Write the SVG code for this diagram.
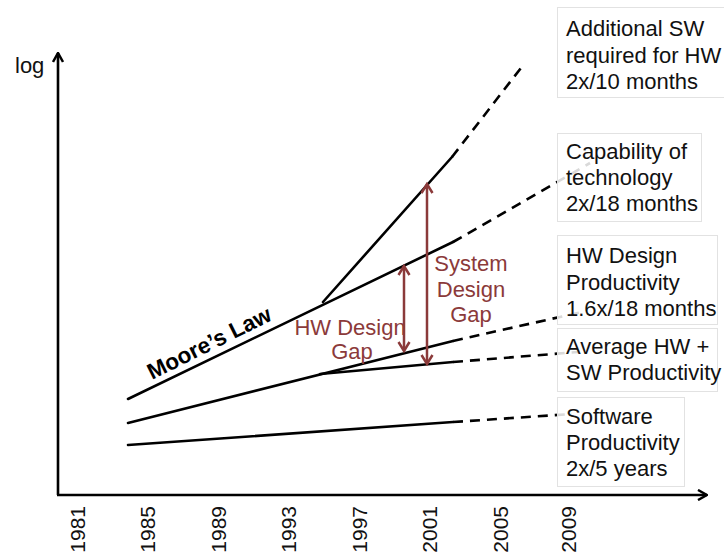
<svg xmlns="http://www.w3.org/2000/svg" width="724" height="554" viewBox="0 0 724 554">
  <style>
    text { font-family: "Liberation Sans", Arial, sans-serif; }
    .lbl { font-size: 22px; fill: #111; }
    .year { font-size: 21px; fill: #111; text-anchor: end; }
    .gap { font-size: 22px; fill: #8b3a3a; text-anchor: middle; }
    .solid { stroke: #000; stroke-width: 2.6; fill: none; stroke-linecap: round; }
    .dash { stroke: #000; stroke-width: 2.6; fill: none; stroke-dasharray: 10 7; }
    .axis { stroke: #000; stroke-width: 2.6; fill: none; }
    .gaparrow { stroke: #8b3a3a; stroke-width: 2.5; fill: none; marker-start: url(#redhead); marker-end: url(#redhead); }
    .box { fill: #fff; fill-opacity: 0.85; stroke: #e2e2e2; stroke-width: 1; }
  </style>
  <defs>
    <marker id="axhead" viewBox="0 0 12 12" refX="11" refY="6" markerWidth="12" markerHeight="12" markerUnits="userSpaceOnUse" orient="auto">
      <path d="M2,1 L11,6 L2,11" fill="none" stroke="#000" stroke-width="2.5"/>
    </marker>
    <marker id="redhead" viewBox="0 0 14 14" refX="12" refY="7" markerWidth="14" markerHeight="14" markerUnits="userSpaceOnUse" orient="auto-start-reverse">
      <path d="M3,1.5 L12,7 L3,12.5" fill="none" stroke="#8b3a3a" stroke-width="2.5"/>
    </marker>
  </defs>

  <!-- axes -->
  <g id="axes">
    <line class="axis" x1="58" y1="495" x2="58" y2="53" marker-end="url(#axhead)"/>
    <line class="axis" x1="57" y1="495" x2="707" y2="495" marker-end="url(#axhead)"/>
    <text class="lbl" x="15" y="73">log</text>
  </g>

  <!-- year ticks along the time axis -->
  <g id="years">
    <text class="year" transform="translate(85,506) rotate(-90)">1981</text>
    <text class="year" transform="translate(155,506) rotate(-90)">1985</text>
    <text class="year" transform="translate(226,506) rotate(-90)">1989</text>
    <text class="year" transform="translate(296,506) rotate(-90)">1993</text>
    <text class="year" transform="translate(367,506) rotate(-90)">1997</text>
    <text class="year" transform="translate(437,506) rotate(-90)">2001</text>
    <text class="year" transform="translate(508,506) rotate(-90)">2005</text>
    <text class="year" transform="translate(576,506) rotate(-90)">2009</text>
  </g>

  <!-- trend lines -->
  <g id="connectors">
    <!-- additional SW required for HW -->
    <line class="solid" x1="323" y1="302" x2="452" y2="157"/>
    <line class="dash" x1="452" y1="157" x2="524" y2="64"/>
    <!-- capability of technology (Moore's law) -->
    <line class="solid" x1="128" y1="399" x2="453" y2="242"/>
    <line class="dash" x1="453" y1="242" x2="590" y2="163"/>
    <!-- HW design productivity -->
    <line class="solid" x1="128" y1="423" x2="453" y2="341"/>
    <line class="dash" x1="453" y1="341" x2="582" y2="312"/>
    <!-- average HW + SW productivity -->
    <line class="solid" x1="320" y1="374" x2="453" y2="362"/>
    <line class="dash" x1="453" y1="362" x2="578" y2="352"/>
    <!-- software productivity -->
    <line class="solid" x1="128" y1="445" x2="453" y2="422"/>
    <line class="dash" x1="453" y1="422" x2="572" y2="414"/>
    <!-- design gaps -->
    <line class="gaparrow" x1="404" y1="266" x2="404" y2="351"/>
    <line class="gaparrow" x1="427" y1="184" x2="427" y2="364"/>
  </g>

  <g id="moores-law">
    <text transform="translate(152,380) rotate(-26.5)" style="font-size:22.5px;font-weight:bold;fill:#000">Moore’s Law</text>
  </g>

  <g id="hw-gap">
    <text class="gap" x="350" y="335">HW Design</text>
    <text class="gap" x="352" y="359">Gap</text>
  </g>

  <g id="system-gap">
    <text class="gap" x="471" y="271">System</text>
    <text class="gap" x="471" y="297">Design</text>
    <text class="gap" x="471" y="322">Gap</text>
  </g>

  <!-- legend boxes -->
  <g id="additional-sw">
    <rect class="box" x="557.5" y="7.5" width="170" height="90"/>
    <text class="lbl" x="566" y="36">Additional SW</text>
    <text class="lbl" x="566" y="63">required for HW</text>
    <text class="lbl" x="566" y="89">2x/10 months</text>
  </g>

  <g id="capability">
    <rect class="box" x="557.5" y="133.5" width="144" height="88"/>
    <text class="lbl" x="566" y="159">Capability of</text>
    <text class="lbl" x="566" y="185">technology</text>
    <text class="lbl" x="566" y="211">2x/18 months</text>
  </g>

  <g id="hw-productivity">
    <rect class="box" x="557.5" y="235.5" width="160" height="89"/>
    <text class="lbl" x="566" y="263">HW Design</text>
    <text class="lbl" x="566" y="290">Productivity</text>
    <text class="lbl" x="566" y="316">1.6x/18 months</text>
  </g>

  <g id="average-productivity">
    <rect class="box" x="557.5" y="328.5" width="160" height="63"/>
    <text class="lbl" x="566" y="354">Average HW +</text>
    <text class="lbl" x="566" y="380">SW Productivity</text>
  </g>

  <g id="sw-productivity">
    <rect class="box" x="557.5" y="397.5" width="127" height="89"/>
    <text class="lbl" x="566" y="424">Software</text>
    <text class="lbl" x="566" y="450">Productivity</text>
    <text class="lbl" x="566" y="476">2x/5 years</text>
  </g>
</svg>
